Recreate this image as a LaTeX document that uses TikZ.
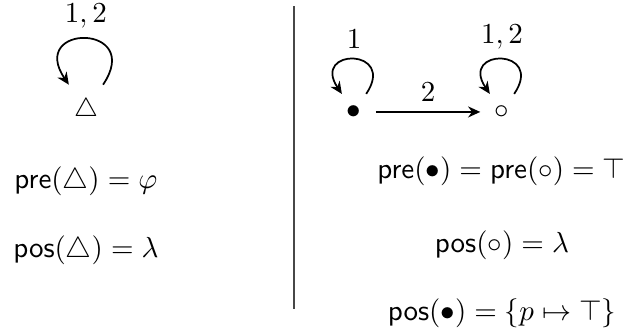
\documentclass[tikz,border=0pt]{standalone}
\usepackage{amsmath,amssymb}
\usetikzlibrary{arrows.meta}

\begin{document}
\begin{tikzpicture}[
  >={Stealth[length=4.2pt,width=3.8pt]},
  state/.style={circle, inner sep=0pt, minimum size=14.6pt},
  bigstate/.style={circle, inner sep=0pt, minimum size=20.7pt, font=\small},
  selfloop/.style={->, semithick, out=56, in=124, distance=19.2pt},
  bigloop/.style={->, semithick, out=56, in=124, distance=25.5pt}
]
  \useasboundingbox (0in,0in) rectangle (2.977in,-1.584in);

  % Left: one state with its loop
  \node[bigstate] (tri) at (0.410in,-0.525in) {$\triangle$};
  \draw[bigloop] (tri) to node[above] {$1,2$} (tri);

  \node (triPre) at (0.410in,-0.864in) {$\mathsf{pre}(\triangle) = \varphi$};
  \node (triPos) at (0.410in,-1.193in) {$\mathsf{pos}(\triangle) = \lambda$};

  % Separator
  \coordinate (sepTop) at (1.403in,-0.029in);
  \coordinate (sepBot) at (1.403in,-1.474in);
  \draw[line width=0.65pt, draw=black!72] (sepTop) -- (sepBot);

  % Right: two states
  \node[state] (blk) at (1.689in,-0.534in) {$\bullet$};
  \node[state] (wht) at (2.395in,-0.534in) {$\circ$};

  \draw[selfloop] (blk) to node[above] {$1$} (blk);
  \draw[selfloop] (wht) to node[above] {$1,2$} (wht);
  \draw[->, semithick] (blk) -- node[above] {$2$} (wht);

  \node (dotPre) at (2.392in,-0.816in) {$\mathsf{pre}(\bullet) = \mathsf{pre}(\circ) = \top$};
  \node (circPos) at (2.395in,-1.169in) {$\mathsf{pos}(\circ) = \lambda$};
  \node (dotPos) at (2.395in,-1.493in) {$\mathsf{pos}(\bullet) = \{p \mapsto \top\}$};

\end{tikzpicture}
\end{document}
